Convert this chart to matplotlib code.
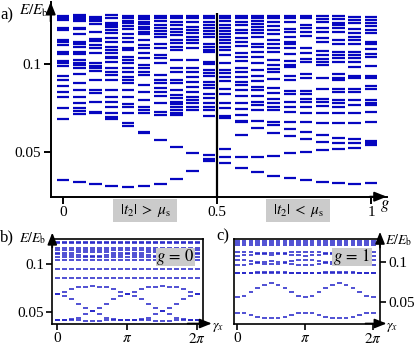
import numpy as np
import matplotlib
matplotlib.use('Agg')
import matplotlib.pyplot as plt
from matplotlib.patches import Rectangle

plt.rcParams['font.family'] = ['Liberation Serif', 'DejaVu Serif']
plt.rcParams['mathtext.fontset'] = 'stix'

# ---------------- Panel a data: energy levels E/E_b at each g ----------------
g_values = [0.0, 0.053, 0.105, 0.158, 0.211, 0.263, 0.316, 0.368, 0.421, 0.474,
            0.526, 0.579, 0.632, 0.684, 0.737, 0.789, 0.842, 0.895, 0.947, 1.0]

a_g00 = [0.1277, 0.1263, 0.1249, 0.1206, 0.1195, 0.1138, 0.1124, 0.1110, 0.1070, 0.1056, 0.1019, 0.1005, 0.0990, 0.0934, 0.0911, 0.0877, 0.0843, 0.0814, 0.0750, 0.0688, 0.0343]
a_g01 = [0.1280, 0.1270, 0.1257, 0.1248, 0.1209, 0.1199, 0.1171, 0.1128, 0.1115, 0.1100, 0.1072, 0.1057, 0.1025, 0.1010, 0.0996, 0.0977, 0.0945, 0.0896, 0.0854, 0.0816, 0.0779, 0.0750, 0.0737, 0.0716, 0.0333]
a_g02 = [0.1270, 0.1257, 0.1244, 0.1229, 0.1185, 0.1144, 0.1131, 0.1110, 0.1091, 0.1063, 0.1006, 0.0992, 0.0979, 0.0964, 0.0911, 0.0854, 0.0835, 0.0788, 0.0731, 0.0722, 0.0319]
a_g03 = [0.1280, 0.1263, 0.1236, 0.1223, 0.1210, 0.1195, 0.1178, 0.1148, 0.1128, 0.1100, 0.1081, 0.1063, 0.1043, 0.1034, 0.1015, 0.0977, 0.0958, 0.0939, 0.0911, 0.0854, 0.0816, 0.0788, 0.0759, 0.0725, 0.0702, 0.0688, 0.0309]
a_g04 = [0.1276, 0.1261, 0.1248, 0.1233, 0.1218, 0.1202, 0.1172, 0.1148, 0.1125, 0.1094, 0.1081, 0.1043, 0.1025, 0.1006, 0.0981, 0.0958, 0.0930, 0.0911, 0.0892, 0.0854, 0.0816, 0.0775, 0.0756, 0.0725, 0.0665, 0.0650, 0.0301]
a_g05 = [0.1276, 0.1267, 0.1256, 0.1242, 0.1229, 0.1214, 0.1199, 0.1185, 0.1171, 0.1138, 0.1110, 0.1091, 0.1063, 0.1034, 0.0996, 0.0977, 0.0956, 0.0939, 0.0883, 0.0844, 0.0797, 0.0756, 0.0741, 0.0722, 0.0617, 0.0608, 0.0309]
a_g06 = [0.1276, 0.1261, 0.1246, 0.1223, 0.1206, 0.1189, 0.1172, 0.1153, 0.1115, 0.1091, 0.1053, 0.1034, 0.1006, 0.0939, 0.0911, 0.0892, 0.0866, 0.0843, 0.0820, 0.0782, 0.0731, 0.0712, 0.0570, 0.0320]
a_g07 = [0.1276, 0.1261, 0.1242, 0.1225, 0.1201, 0.1182, 0.1167, 0.1138, 0.1119, 0.1100, 0.1081, 0.1025, 0.0981, 0.0956, 0.0911, 0.0892, 0.0854, 0.0826, 0.0807, 0.0788, 0.0775, 0.0759, 0.0741, 0.0726, 0.0712, 0.0529, 0.0349]
a_g08 = [0.1276, 0.1261, 0.1242, 0.1210, 0.1195, 0.1176, 0.1157, 0.1138, 0.1119, 0.1094, 0.1025, 0.0977, 0.0956, 0.0930, 0.0900, 0.0873, 0.0844, 0.0814, 0.0797, 0.0779, 0.0759, 0.0741, 0.0498, 0.0394]
a_g09 = [0.1276, 0.1263, 0.1240, 0.1223, 0.1206, 0.1189, 0.1171, 0.1153, 0.1114, 0.1100, 0.1081, 0.1072, 0.1013, 0.1000, 0.0968, 0.0949, 0.0934, 0.0900, 0.0883, 0.0864, 0.0830, 0.0807, 0.0779, 0.0759, 0.0741, 0.0708, 0.0485, 0.0462, 0.0451]
a_g10 = [0.1276, 0.1261, 0.1246, 0.1225, 0.1206, 0.1189, 0.1171, 0.1157, 0.1138, 0.1119, 0.1100, 0.1081, 0.1053, 0.1009, 0.0968, 0.0949, 0.0926, 0.0905, 0.0860, 0.0831, 0.0782, 0.0750, 0.0706, 0.0693, 0.0519, 0.0475, 0.0438]
a_g11 = [0.1276, 0.1261, 0.1242, 0.1223, 0.1195, 0.1178, 0.1148, 0.1128, 0.1106, 0.1063, 0.1043, 0.1021, 0.0977, 0.0956, 0.0930, 0.0901, 0.0883, 0.0854, 0.0820, 0.0779, 0.0744, 0.0712, 0.0680, 0.0671, 0.0599, 0.0472, 0.0409]
a_g12 = [0.1276, 0.1261, 0.1246, 0.1229, 0.1212, 0.1195, 0.1178, 0.1157, 0.1114, 0.1100, 0.1070, 0.1043, 0.1009, 0.0966, 0.0934, 0.0905, 0.0873, 0.0854, 0.0820, 0.0788, 0.0769, 0.0741, 0.0680, 0.0637, 0.0475, 0.0387]
a_g13 = [0.1276, 0.1261, 0.1240, 0.1219, 0.1195, 0.1172, 0.1138, 0.1115, 0.1091, 0.1068, 0.1025, 0.0996, 0.0973, 0.0958, 0.0915, 0.0864, 0.0835, 0.0803, 0.0779, 0.0759, 0.0741, 0.0674, 0.0655, 0.0612, 0.0481, 0.0366]
a_g14 = [0.1276, 0.1261, 0.1242, 0.1201, 0.1182, 0.1153, 0.1128, 0.1114, 0.1091, 0.1059, 0.1021, 0.0996, 0.0985, 0.0934, 0.0911, 0.0848, 0.0831, 0.0788, 0.0759, 0.0731, 0.0674, 0.0633, 0.0593, 0.0495, 0.0353]
a_g15 = [0.1276, 0.1261, 0.1223, 0.1205, 0.1184, 0.1161, 0.1094, 0.1066, 0.1030, 0.1013, 0.0945, 0.0921, 0.0848, 0.0831, 0.0803, 0.0788, 0.0759, 0.0722, 0.0671, 0.0614, 0.0576, 0.0500, 0.0341]
a_g16 = [0.1274, 0.1257, 0.1240, 0.1206, 0.1184, 0.1149, 0.1127, 0.1076, 0.1053, 0.1032, 0.1013, 0.0996, 0.0924, 0.0860, 0.0803, 0.0788, 0.0763, 0.0722, 0.0668, 0.0599, 0.0560, 0.0513, 0.0333]
a_g17 = [0.1274, 0.1256, 0.1236, 0.1223, 0.1206, 0.1185, 0.1138, 0.1115, 0.1070, 0.1053, 0.1036, 0.1015, 0.0943, 0.0924, 0.0911, 0.0860, 0.0843, 0.0797, 0.0780, 0.0759, 0.0722, 0.0668, 0.0583, 0.0555, 0.0519, 0.0328]
a_g18 = [0.1269, 0.1252, 0.1235, 0.1201, 0.1180, 0.1157, 0.1138, 0.1115, 0.1072, 0.1053, 0.1034, 0.1015, 0.0985, 0.0934, 0.0921, 0.0860, 0.0843, 0.0797, 0.0769, 0.0722, 0.0668, 0.0574, 0.0551, 0.0526, 0.0322]
a_g19 = [0.1269, 0.1253, 0.1235, 0.1218, 0.1195, 0.1176, 0.1127, 0.1114, 0.1085, 0.1059, 0.1043, 0.0992, 0.0934, 0.0921, 0.0877, 0.0858, 0.0797, 0.0779, 0.0769, 0.0731, 0.0674, 0.0564, 0.0555, 0.0542, 0.0324]

a_levels = [a_g00, a_g01, a_g02, a_g03, a_g04, a_g05, a_g06, a_g07, a_g08, a_g09,
            a_g10, a_g11, a_g12, a_g13, a_g14, a_g15, a_g16, a_g17, a_g18, a_g19]

# ---------------- Panels b, c data: levels vs gamma_x ----------------
gamma_over_pi = [0.0, 0.1, 0.2, 0.3, 0.4, 0.5, 0.6, 0.7, 0.8, 0.9, 1.0,
                 1.1, 1.2, 1.3, 1.4, 1.5, 1.6, 1.7, 1.8, 1.9, 2.0]

b_arc = [0.0691, 0.0715, 0.0743, 0.0760, 0.0767, 0.0771, 0.0767, 0.0760, 0.0743, 0.0715, 0.0691, 0.0715, 0.0743, 0.0760, 0.0767, 0.0771, 0.0767, 0.0760, 0.0743, 0.0715, 0.0691]
b_fall = [0.0691, 0.0670, 0.0639, 0.0586, 0.0542, 0.0514, 0.0479, 0.0444, 0.0430, 0.0420, 0.0420, 0.0420, 0.0430, 0.0444, 0.0479, 0.0514, 0.0542, 0.0586, 0.0639, 0.0670, 0.0691]
b_rise = [0.0420, 0.0420, 0.0430, 0.0444, 0.0479, 0.0514, 0.0542, 0.0586, 0.0639, 0.0670, 0.0691, 0.0670, 0.0639, 0.0586, 0.0542, 0.0514, 0.0479, 0.0444, 0.0430, 0.0420, 0.0420]
b_bottom = [0.0420, 0.0420, 0.0418, 0.0416, 0.0413, 0.0413, 0.0413, 0.0416, 0.0418, 0.0420, 0.0420, 0.0420, 0.0418, 0.0416, 0.0413, 0.0413, 0.0413, 0.0416, 0.0418, 0.0420, 0.0420]
b_wave1 = [0.1115, 0.1115, 0.1118, 0.1124, 0.1129, 0.1131, 0.1129, 0.1124, 0.1118, 0.1115, 0.1115, 0.1115, 0.1118, 0.1124, 0.1129, 0.1131, 0.1129, 0.1124, 0.1118, 0.1115, 0.1115]
b_wave2 = [0.1104, 0.1102, 0.1098, 0.1092, 0.1086, 0.1083, 0.1086, 0.1092, 0.1098, 0.1102, 0.1104, 0.1102, 0.1098, 0.1092, 0.1086, 0.1083, 0.1086, 0.1092, 0.1098, 0.1102, 0.1104]
b_flat_levels = [0.1235, 0.1219, 0.1167, 0.1146, 0.1076, 0.1048, 0.0948, 0.0860]

c_bottom = [0.0360, 0.0353, 0.0331, 0.0310, 0.0297, 0.0293, 0.0297, 0.0310, 0.0331, 0.0353, 0.0360, 0.0353, 0.0331, 0.0310, 0.0297, 0.0293, 0.0297, 0.0310, 0.0331, 0.0353, 0.0360]
c_arc = [0.0556, 0.0576, 0.0619, 0.0670, 0.0712, 0.0741, 0.0712, 0.0670, 0.0619, 0.0576, 0.0556, 0.0576, 0.0619, 0.0670, 0.0712, 0.0741, 0.0712, 0.0670, 0.0619, 0.0576, 0.0556]
c_mid = [0.0860, 0.0862, 0.0866, 0.0872, 0.0877, 0.0879, 0.0877, 0.0872, 0.0866, 0.0862, 0.0860, 0.0862, 0.0866, 0.0872, 0.0877, 0.0879, 0.0877, 0.0872, 0.0866, 0.0862, 0.0860]
c_wave1 = [0.1135, 0.1133, 0.1125, 0.1112, 0.1100, 0.1093, 0.1100, 0.1112, 0.1125, 0.1133, 0.1135, 0.1133, 0.1125, 0.1112, 0.1100, 0.1093, 0.1100, 0.1112, 0.1125, 0.1133, 0.1135]
c_wave2 = [0.1084, 0.1087, 0.1094, 0.1106, 0.1116, 0.1122, 0.1116, 0.1106, 0.1094, 0.1087, 0.1084, 0.1087, 0.1094, 0.1106, 0.1116, 0.1122, 0.1116, 0.1106, 0.1094, 0.1087, 0.1084]
c_wave3 = [0.1029, 0.1026, 0.1016, 0.1000, 0.0984, 0.0975, 0.0984, 0.1000, 0.1016, 0.1026, 0.1029, 0.1026, 0.1016, 0.1000, 0.0984, 0.0975, 0.0984, 0.1000, 0.1016, 0.1026, 0.1029]
c_wave4 = [0.0966, 0.0970, 0.0980, 0.0995, 0.1009, 0.1016, 0.1009, 0.0995, 0.0980, 0.0970, 0.0966, 0.0970, 0.0980, 0.0995, 0.1009, 0.1016, 0.1009, 0.0995, 0.0980, 0.0970, 0.0966]
c_flat_levels = [0.1268, 0.1243, 0.1218, 0.0860]

# ---------------- Figure ----------------
W, H = 415, 345
fig = plt.figure(figsize=(W / 100, H / 100), dpi=100)


def rect_px(x0, y0, x1, y1):
    return [x0 / W, 1 - y1 / H, (x1 - x0) / W, (y1 - y0) / H]


def ftext(x, y, s, **kw):
    fig.text(x / W, 1 - y / H, s, **kw)


def fbox(x0, y0, x1, y1):
    fig.add_artist(Rectangle((x0 / W, 1 - y1 / H), (x1 - x0) / W, (y1 - y0) / H,
                             transform=fig.transFigure, facecolor='#cbcbcb',
                             edgecolor='none', zorder=5))


def arrow(ax, xy, xytext, lw):
    ax.annotate('', xy=xy, xytext=xytext, xycoords='axes fraction',
                textcoords='axes fraction',
                arrowprops=dict(arrowstyle='-|>,head_length=0.55,head_width=0.22',
                                mutation_scale=13, lw=lw, color='k',
                                shrinkA=0, shrinkB=0))


blue_a = '#0606c0'
blue_bc = '#2020c8'

# ---- Panel a ----
axa = fig.add_axes(rect_px(50.7, 2, 386.7, 196.7))
ya0, ya1 = 0.0248, 0.1354
axa.set_xlim(-0.040, 1.051)
axa.set_ylim(ya0, ya1)
hw_a = 0.021
for g, lv in zip(g_values, a_levels):
    axa.hlines(lv, g - hw_a, g + hw_a, color=blue_a, lw=1.6)
axa.vlines(0.5, ya0, 0.1290, color='k', lw=1.6, zorder=4)
for s in ['top', 'right']:
    axa.spines[s].set_visible(False)
for s in ['left', 'bottom']:
    axa.spines[s].set_linewidth(1.4)
axa.set_xticks([0, 0.5, 1])
axa.set_xticklabels(['0', '0.5', '1'])
axa.set_yticks([0.05, 0.1])
axa.set_yticklabels(['0.05', '0.1'])
axa.tick_params(direction='out', length=5, width=1.4, labelsize=11, pad=2)
arrow(axa, (0, 1.0), (0, 0.9), 1.4)
arrow(axa, (1.0, 0), (0.95, 0), 1.4)

ftext(0, 15, 'a)', fontsize=12, ha='left', va='center')
ftext(34, 11, r'$E/E_\mathrm{b}$', fontsize=11, ha='center', va='center')
ftext(385, 206, r'$g$', fontsize=12, ha='center', va='center')
fbox(113, 199, 177, 222)
fbox(266, 199, 330, 222)
ftext(145, 210.5, r'$|t_2|\;>\;\mu_\mathrm{s}$', fontsize=11, ha='center', va='center', zorder=6)
ftext(298, 210.5, r'$|t_2|\;<\;\mu_\mathrm{s}$', fontsize=11, ha='center', va='center', zorder=6)

# ---- Panels b and c ----
gam = np.array(gamma_over_pi) * np.pi
hw_bc = 0.11

axb = fig.add_axes(rect_px(52.3, 239, 202.7, 323.5))
axb.set_xlim(-0.2244, 6.526)
axb.set_ylim(0.0383, 0.1264)
for curve in [b_arc, b_fall, b_rise, b_bottom, b_wave1, b_wave2]:
    axb.hlines(curve, gam - hw_bc, gam + hw_bc, color=blue_bc, lw=1.1)
for lev in b_flat_levels:
    axb.hlines([lev] * len(gam), gam - hw_bc, gam + hw_bc, color=blue_bc, lw=1.1)

axc = fig.add_axes(rect_px(234.3, 239, 380, 323.5))
axc.set_xlim(-0.1386, 6.593)
axc.set_ylim(0.0223, 0.1296)
for curve in [c_bottom, c_arc, c_mid, c_wave1, c_wave2, c_wave3, c_wave4]:
    axc.hlines(curve, gam - hw_bc, gam + hw_bc, color=blue_bc, lw=1.1)
for lev in c_flat_levels:
    axc.hlines([lev] * len(gam), gam - hw_bc, gam + hw_bc, color=blue_bc, lw=1.1)

for ax in (axb, axc):
    for s in ax.spines.values():
        s.set_linewidth(1.2)
    ax.set_xticks([0, np.pi, 2 * np.pi])
    ax.set_xticklabels(['0', r'$\pi$', r'$2\pi$'])
    ax.set_yticks([0.05, 0.1])
    ax.set_yticklabels(['0.05', '0.1'])
    ax.tick_params(direction='out', length=4, width=1.2, labelsize=11, pad=2)

axc.yaxis.tick_right()
arrow(axb, (0, 1.075), (0, 0.9), 1.2)
arrow(axb, (1.06, 0), (0.9, 0), 1.2)
arrow(axc, (1, 1.085), (1, 0.9), 1.2)
arrow(axc, (1.045, 0), (0.9, 0), 1.2)

ftext(0, 237, 'b)', fontsize=12, ha='left', va='center')
ftext(33, 238, r'$E/E_\mathrm{b}$', fontsize=10, ha='center', va='center')
ftext(218, 327, r'$\gamma_x$', fontsize=10, ha='center', va='center')
fbox(156, 248, 195, 266)
ftext(175.5, 257, r'$g\,=\,0$', fontsize=12, ha='center', va='center', zorder=6)

ftext(223, 236, 'c)', fontsize=12, ha='center', va='center')
ftext(399, 240, r'$E/E_\mathrm{b}$', fontsize=10, ha='center', va='center')
ftext(392, 327, r'$\gamma_x$', fontsize=10, ha='center', va='center')
fbox(332, 248, 372, 266)
ftext(352, 257, r'$g\,=\,1$', fontsize=12, ha='center', va='center', zorder=6)

fig.savefig('out.png', dpi=100)
